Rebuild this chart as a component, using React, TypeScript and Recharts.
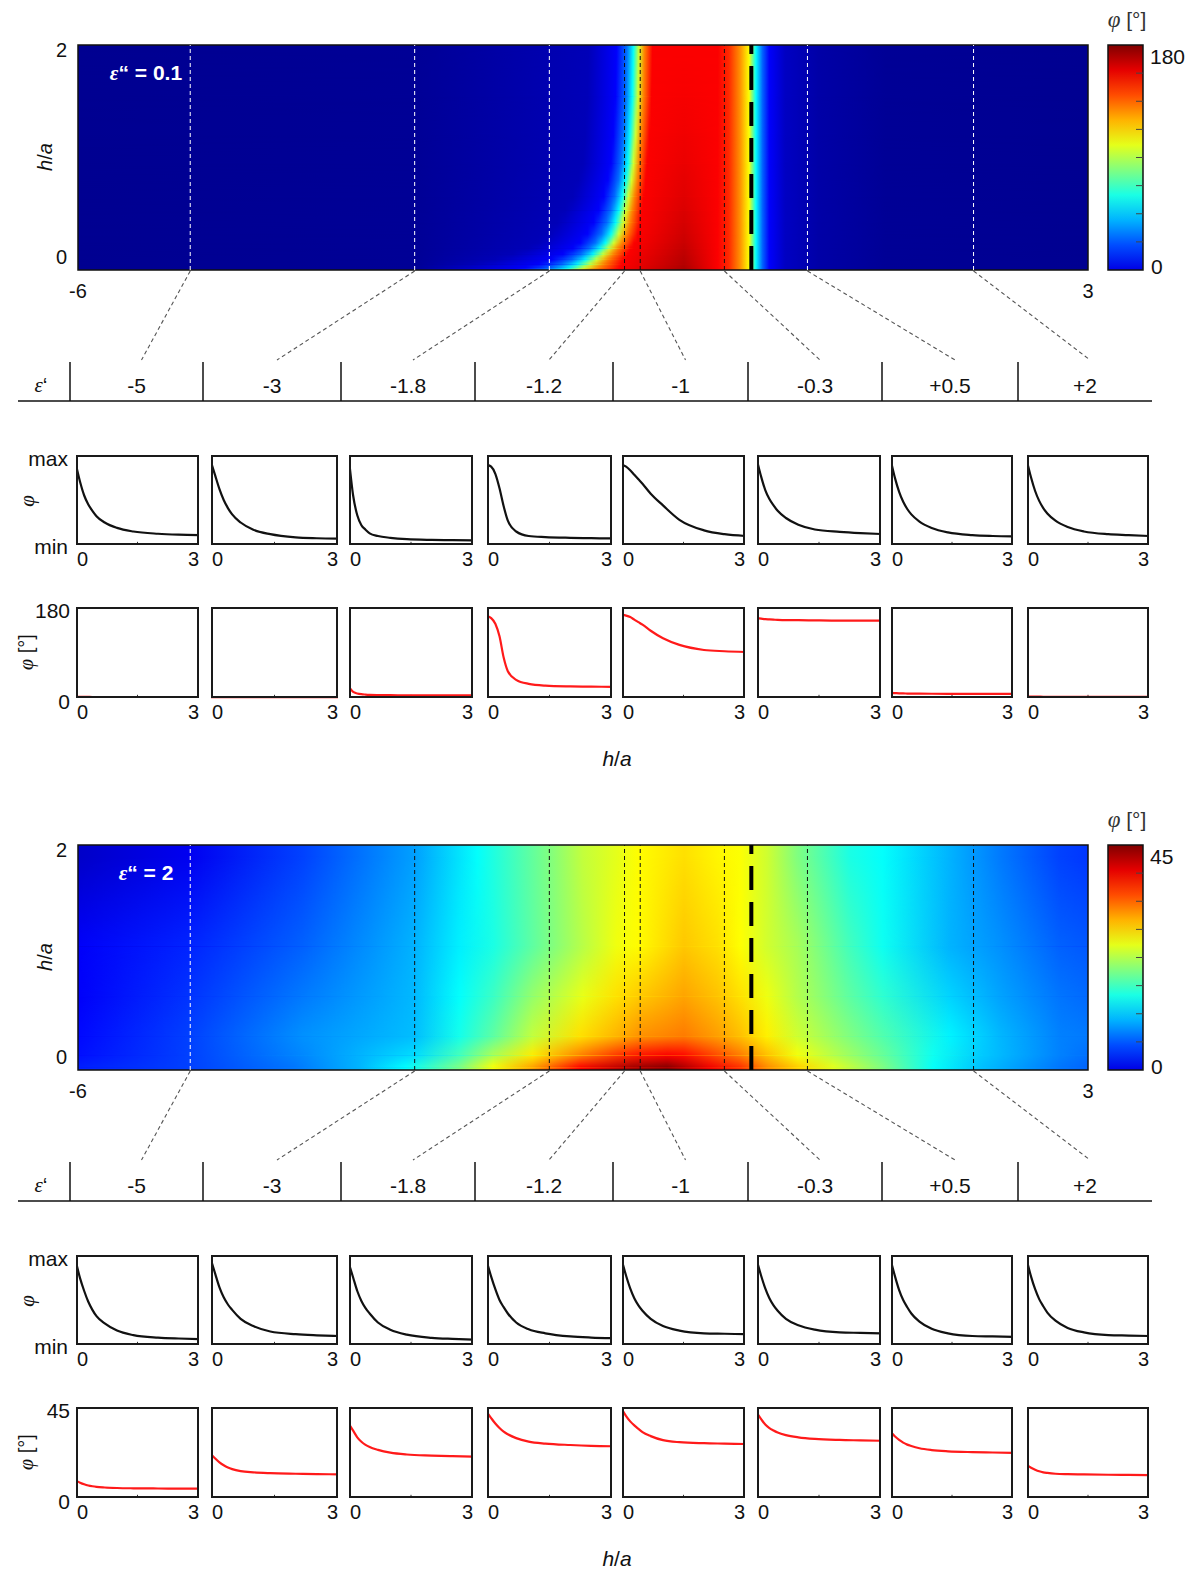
import React from 'react'
import { ComposedChart, LineChart, Line, XAxis, YAxis, ReferenceArea, ReferenceLine } from 'recharts'

// eps' values shown in the table and where their dashed markers cross the maps
const epsLabels = ['-5', '-3', '-1.8', '-1.2', '-1', '-0.3', '+0.5', '+2']
const markerX = [-5, -3, -1.8, -1.13, -0.99, -0.24, 0.5, 1.98]
const poleX = 0

// h/a sample points of the small line charts
const hGrid = [0, 0.1, 0.2, 0.3, 0.4, 0.5, 0.7, 1.0, 1.4, 2.0, 2.5, 3]

// eps'' = 0.1 : normalised profile (max..min) and phase in degrees
const shapeTop = [
  [0.89, 0.7, 0.55, 0.45, 0.38, 0.32, 0.25, 0.19, 0.15, 0.125, 0.115, 0.11],
  [0.92, 0.77, 0.62, 0.5, 0.41, 0.34, 0.25, 0.17, 0.12, 0.085, 0.075, 0.07],
  [0.95, 0.55, 0.33, 0.22, 0.17, 0.13, 0.1, 0.08, 0.065, 0.057, 0.054, 0.052],
  [0.89, 0.87, 0.79, 0.63, 0.43, 0.27, 0.15, 0.1, 0.088, 0.08, 0.076, 0.073],
  [0.89, 0.87, 0.83, 0.78, 0.73, 0.68, 0.57, 0.44, 0.28, 0.163, 0.12, 0.1],
  [0.94, 0.76, 0.61, 0.51, 0.44, 0.38, 0.3, 0.225, 0.172, 0.146, 0.132, 0.122],
  [0.93, 0.74, 0.59, 0.48, 0.4, 0.34, 0.26, 0.19, 0.14, 0.11, 0.1, 0.095],
  [0.93, 0.75, 0.6, 0.49, 0.41, 0.35, 0.27, 0.2, 0.15, 0.12, 0.11, 0.1],
]
const phaseTop = [
  [2.5, 2.3, 2.2, 2.1, 2, 2, 2, 2, 2, 2, 2, 2],
  [1.8, 1.7, 1.6, 1.5, 1.5, 1.5, 1.5, 1.5, 1.5, 1.5, 1.5, 1.5],
  [22, 12, 9, 7.5, 6.8, 6.3, 5.8, 5.5, 5.3, 5.2, 5.1, 5],
  [162, 158, 147, 122, 80, 53, 36, 28, 24.5, 23, 22.5, 22],
  [165, 163, 160, 155, 150, 145, 133, 118, 105, 95, 92.5, 91],
  [158, 157, 156, 155.5, 155, 154.5, 154, 154, 153.5, 153, 153, 153],
  [10, 9.6, 9.3, 9, 8.8, 8.7, 8.5, 8.4, 8.3, 8.2, 8.1, 8],
  [3, 2.8, 2.7, 2.6, 2.5, 2.5, 2.5, 2.5, 2.5, 2.5, 2.5, 2.5],
]

// eps'' = 2
const shapeBottom = [
  [0.92, 0.74, 0.6, 0.48, 0.39, 0.32, 0.24, 0.16, 0.11, 0.082, 0.072, 0.066],
  [0.945, 0.79, 0.64, 0.53, 0.45, 0.39, 0.29, 0.21, 0.15, 0.12, 0.108, 0.1],
  [0.9, 0.75, 0.6, 0.49, 0.41, 0.35, 0.25, 0.17, 0.115, 0.08, 0.068, 0.06],
  [0.92, 0.76, 0.62, 0.5, 0.42, 0.35, 0.25, 0.175, 0.13, 0.095, 0.083, 0.077],
  [0.93, 0.77, 0.63, 0.52, 0.44, 0.38, 0.29, 0.21, 0.16, 0.13, 0.125, 0.12],
  [0.93, 0.77, 0.63, 0.52, 0.44, 0.38, 0.29, 0.22, 0.17, 0.14, 0.135, 0.13],
  [0.93, 0.76, 0.61, 0.5, 0.42, 0.35, 0.26, 0.18, 0.13, 0.1, 0.095, 0.09],
  [0.93, 0.76, 0.62, 0.51, 0.43, 0.36, 0.27, 0.19, 0.14, 0.11, 0.105, 0.1],
]
const phaseBottom = [
  [8.6, 7.6, 6.8, 6.2, 5.8, 5.5, 5.2, 4.95, 4.8, 4.7, 4.65, 4.6],
  [21.7, 19.5, 17.6, 16.2, 15.1, 14.3, 13.3, 12.7, 12.3, 12.0, 11.8, 11.7],
  [36.5, 33.3, 30.0, 27.8, 26.3, 25.2, 23.8, 22.4, 21.5, 21.0, 20.7, 20.5],
  [42.4, 39.5, 36.8, 34.6, 32.8, 31.5, 29.6, 27.9, 26.9, 26.2, 25.8, 25.6],
  [43.7, 40.5, 37.9, 35.9, 34.2, 32.6, 30.6, 28.6, 27.6, 27.1, 26.9, 26.7],
  [42, 39, 36.3, 34.6, 33.4, 32.4, 31.1, 30.0, 29.2, 28.7, 28.5, 28.3],
  [32.5, 30.4, 28.7, 27.4, 26.4, 25.7, 24.6, 23.7, 23.1, 22.7, 22.5, 22.3],
  [16.2, 15.0, 14.0, 13.2, 12.7, 12.4, 12.0, 11.8, 11.7, 11.5, 11.4, 11.3],
]

// eps'' = 0.1 phase map, read row by row: h/a of the row, eps' of the cyan (~68 deg) edge,
// width of the blue->red transition, and the phase in the red core
const topRowsH = [2.0, 1.54, 1.2, 0.95, 0.8, 0.65, 0.53, 0.42, 0.32, 0.24, 0.19, 0.14, 0.09, 0.05, 0.02, 0]
const topEdge = [-1.05, -1.06, -1.08, -1.1, -1.12, -1.15, -1.18, -1.21, -1.25, -1.3, -1.35, -1.41, -1.48, -1.55, -1.62, -1.68]
const topSpread = [1, 1, 1, 1, 1.05, 1.1, 1.2, 1.3, 1.4, 1.5, 1.6, 1.8, 2.0, 2.3, 2.6, 2.8]
const topCore = [158, 159, 160, 161, 162, 163, 164, 165, 166, 167, 168, 169, 170, 171, 172, 173]
const topRightStops = [[-0.3, 158], [-0.2, 150], [-0.1, 132], [-0.02, 112], [0, 95], [0.04, 68], [0.1, 40], [0.16, 22], [0.3, 12], [0.6, 7], [1.2, 4], [3, 3]]

// eps'' = 2 phase map, rows of [eps', phase] stops at the given h/a
const bottomRowsH = [1.9, 1.1, 0.65, 0.3, 0.13, 0.02]
const bottomRowStops = [
  [[-6, 3.2], [-5, 5], [-4, 8.5], [-3, 12.7], [-2.44, 17], [-1.8, 22.5], [-1.5, 25.5], [-1.2, 27], [-1.0, 28.2], [-0.6, 29.5], [-0.3, 28.5], [-0.1, 28], [0.14, 26], [0.41, 22.5], [0.88, 18], [1.17, 17], [1.77, 13.5], [2.22, 11], [2.75, 8.5], [3, 8]],
  [[-6, 5.4], [-5, 7.2], [-4, 9.9], [-3, 13.5], [-2.6, 16.2], [-2.3, 18], [-1.95, 21], [-1.5, 25], [-1.2, 27.5], [-1.0, 28.3], [-0.6, 30.6], [-0.3, 29.5], [-0.1, 28.1], [0.14, 26.1], [0.41, 24.3], [0.88, 19.8], [1.17, 17.5], [1.77, 13.5], [2.22, 12], [2.75, 9.9], [3, 9.5]],
  [[-6, 5.4], [-5, 7.9], [-4, 11], [-3, 13.8], [-2.6, 17], [-2.3, 19.5], [-1.95, 23.5], [-1.5, 27.2], [-1.2, 29.5], [-1.0, 30.5], [-0.6, 32.2], [-0.3, 30.8], [-0.1, 29.5], [0.14, 27.4], [0.41, 24.8], [0.88, 21], [1.17, 19], [1.77, 15], [2.22, 12.8], [2.75, 10.8], [3, 10.3]],
  [[-6, 6], [-5, 8.5], [-4, 12], [-3, 14], [-2.6, 17.8], [-2.3, 21], [-1.95, 25.5], [-1.53, 29.5], [-1.2, 31.5], [-1.0, 33], [-0.6, 34], [-0.3, 32.4], [-0.1, 31], [0.14, 28.8], [0.41, 26], [0.88, 22.5], [1.17, 20.5], [1.77, 16.4], [2.22, 13.7], [2.75, 11.3], [3, 11]],
  [[-6, 6.3], [-5, 8.5], [-4, 11.6], [-3, 15.4], [-2.6, 20], [-2.3, 24.5], [-1.95, 29], [-1.5, 34], [-1.2, 37], [-1.0, 38.5], [-0.75, 39.5], [-0.6, 39], [-0.3, 36], [-0.1, 34], [0.14, 31], [0.41, 27.7], [0.73, 25], [1.17, 21.5], [1.62, 17.5], [2.06, 14.5], [2.75, 11.3], [3, 10.5]],
  [[-6, 7], [-5, 8.5], [-4.08, 10.8], [-3.5, 13.5], [-3.08, 16.9], [-2.6, 22.5], [-2.3, 28], [-1.95, 32.4], [-1.53, 39.4], [-1.05, 43.6], [-0.75, 45], [-0.37, 40], [-0.1, 37.4], [0.14, 33.3], [0.43, 30.2], [0.73, 27], [1.17, 22.5], [1.62, 17.1], [2.06, 14], [2.75, 10.8], [3, 10]],
]

const markerColorsTop = ['#fff', '#fff', '#fff', '#111', '#111', '#111', '#fff', '#fff']
const markerColorsBottom = ['#fff', '#111', '#111', '#111', '#111', '#111', '#111', '#111']

// stop lists for the eps'' = 0.1 rows, shaped around the read edge
const topRowStops = topRowsH.map((_, i) => {
  const e = topEdge[i]
  const s = topSpread[i]
  return [
    [-6, 3], [-3, 4], [e - 0.4 * s, 10], [e - 0.15 * s, 22], [e - 0.06 * s, 42], [e, 68],
    [e + 0.05 * s, 105], [e + 0.1 * s, 135], [e + 0.17 * s, 158], [-0.6, topCore[i]], ...topRightStops,
  ]
})

// layout
const FONT = '"Liberation Sans", Arial, sans-serif'
const SERIF = '"Liberation Serif", "DejaVu Serif", serif'
const PLOT_L = 78
const PLOT_R = 1088
const MAP_TOP = 45
const MAP_BOTTOM = 270
const boxLeft = [76, 211, 349, 487, 622, 757, 891, 1027]
const boxRight = [199, 338, 473, 612, 745, 881, 1013, 1149]
const sepX = [70, 203, 341, 475, 613, 748, 882, 1018, 1152]

const jet = (t: number) => {
  const c = (v: number) => Math.round(255 * Math.max(0, Math.min(1, v)))
  return `rgb(${c(1.5 - Math.abs(4 * t - 3))},${c(1.5 - Math.abs(4 * t - 2))},${c(1.5 - Math.abs(4 * t - 1))})`
}
const xToPx = (x: number) => PLOT_L + ((x + 6) / 9) * (PLOT_R - PLOT_L)

function T({ x, y, children, size = 20, anchor = 'middle', rotate = false, style = {} }: any) {
  const tx = anchor === 'middle' ? '-50%' : anchor === 'end' ? '-100%' : '0'
  return (
    <div
      style={{
        position: 'absolute', left: x, top: y, whiteSpace: 'nowrap', lineHeight: 1, fontSize: size,
        transform: `translate(${tx},-50%)${rotate ? ' rotate(-90deg)' : ''}`, ...style,
      }}
    >
      {children}
    </div>
  )
}

const HA = () => (
  <>
    <span style={{ fontStyle: 'italic' }}>h</span>/<span style={{ fontStyle: 'italic' }}>a</span>
  </>
)

function MapXTick({ x, y, payload }: any) {
  return (
    <text x={x} y={y + 6} dy="0.71em" textAnchor="middle" fontSize={20} fill="#111" fontFamily={FONT}>
      {payload.value}
    </text>
  )
}
function MapYTick({ x, y, payload }: any) {
  return (
    <text x={x - 3} y={y + (payload.value === 2 ? 5 : -13)} dy="0.35em" textAnchor="end" fontSize={20} fill="#111" fontFamily={FONT}>
      {payload.value}
    </text>
  )
}

const mapFrame = [{ x: -6, y: 0 }, { x: 3, y: 2 }]

function HeatMap({ id, rowsH, rowStops, maxPhi, markerColors }: any) {
  const areas: any[] = []
  rowsH.forEach((h: number, k: number) => {
    const fill = `url(#${id}-r${k})`
    if (k === 0) {
      areas.push(<ReferenceArea key={`s${k}`} x1={-6} x2={3} y1={0} y2={2} fill={fill} fillOpacity={1} stroke="none" />)
      return
    }
    areas.push(
      <ReferenceArea key={`f${k}`} x1={-6} x2={3} y1={h} y2={rowsH[k - 1]}
        shape={(p: any) => <rect x={p.x} y={p.y} width={p.width} height={p.height} fill={fill} mask={`url(#${id}-fade)`} />} />
    )
    if (h > 0) {
      areas.push(<ReferenceArea key={`s${k}`} x1={-6} x2={3} y1={0} y2={h} fill={fill} fillOpacity={1} stroke="none" />)
    }
  })
  return (
    <div style={{ position: 'absolute', left: 0, top: 0 }}>
      <ComposedChart width={1200} height={MAP_BOTTOM + 44} data={mapFrame}
        margin={{ top: MAP_TOP, right: 1200 - PLOT_R, bottom: 0, left: PLOT_L - 30 }}>
        <defs>
          <linearGradient id={`${id}-fadeg`} x1="0" y1="0" x2="0" y2="1">
            <stop offset="0" stopColor="#000" />
            <stop offset="1" stopColor="#fff" />
          </linearGradient>
          <mask id={`${id}-fade`} maskContentUnits="objectBoundingBox">
            <rect x="0" y="0" width="1" height="1" fill={`url(#${id}-fadeg)`} />
          </mask>
          {rowStops.map((stops: number[][], i: number) => (
            <linearGradient key={i} id={`${id}-r${i}`} x1="0" y1="0" x2="1" y2="0">
              {stops.map(([x, p], k) => (
                <stop key={k} offset={`${((x + 6) / 9) * 100}%`} stopColor={jet(p / maxPhi)} />
              ))}
            </linearGradient>
          ))}
        </defs>
        <XAxis dataKey="x" type="number" domain={[-6, 3]} ticks={[-6, 3]} interval={0} height={44}
          axisLine={false} tickLine={false} tick={<MapXTick />} />
        <YAxis dataKey="y" type="number" domain={[0, 2]} ticks={[0, 2]} interval={0} width={30}
          axisLine={false} tickLine={false} tick={<MapYTick />} />
        <Line dataKey="y" stroke="none" dot={false} activeDot={false} isAnimationActive={false} />
        {areas}
        {markerX.map((x, i) => (
          <ReferenceLine key={i} x={x} stroke={markerColors[i]} strokeWidth={1} strokeDasharray="4 3" />
        ))}
        <ReferenceLine x={poleX} stroke="#000" strokeWidth={4} strokeDasharray="24 12" />
        <ReferenceArea x1={-6} x2={3} y1={0} y2={2} fill="none" fillOpacity={0} stroke="#111" strokeWidth={1.5} />
      </ComposedChart>
    </div>
  )
}

function ColorBar({ id, maxPhi }: any) {
  const levels = [0.1, 0.2, 0.3, 0.4, 0.5, 0.6, 0.7, 0.8, 0.9, 1]
  const ticks = [1, 2, 3, 4, 5, 6, 7].map((k) => (k * maxPhi) / 8)
  return (
    <div style={{ position: 'absolute', left: 1107, top: MAP_TOP - 1 }}>
      <ComposedChart width={37} height={MAP_BOTTOM - MAP_TOP + 2} data={[{ x: 0, y: 0 }, { x: 1, y: maxPhi }]}
        margin={{ top: 1, right: 1, bottom: 1, left: 1 }}>
        <defs>
          <linearGradient id={id} x1="0" y1="1" x2="0" y2="0">
            {levels.map((t, k) => (
              <stop key={k} offset={`${(k / (levels.length - 1)) * 100}%`} stopColor={jet(t)} />
            ))}
          </linearGradient>
        </defs>
        <XAxis dataKey="x" type="number" domain={[0, 1]} hide />
        <YAxis dataKey="y" type="number" domain={[0, maxPhi]} hide />
        <Line dataKey="y" stroke="none" dot={false} activeDot={false} isAnimationActive={false} />
        <ReferenceArea x1={0} x2={1} y1={0} y2={maxPhi} fill={`url(#${id})`} fillOpacity={1} stroke="#111" strokeWidth={1.5} />
        {ticks.map((v, i) => (
          <ReferenceLine key={i} segment={[{ x: 0.8, y: v }, { x: 1, y: v }]} stroke="#444" strokeWidth={1} />
        ))}
      </ComposedChart>
    </div>
  )
}

function SmallXTick({ x, y, payload }: any) {
  return (
    <text x={payload.value === 0 ? x + 1 : x} y={y - 1} dy="0.71em" textAnchor={payload.value === 0 ? 'start' : 'end'}
      fontSize={20} fill="#111" fontFamily={FONT}>
      {payload.value}
    </text>
  )
}

function SmallChart({ left, right, top, height, values, yMax, color }: any) {
  const w = right - left
  const data = hGrid.map((h, i) => ({ h, v: values[i] }))
  return (
    <div style={{ position: 'absolute', left, top }}>
      <LineChart width={w} height={height + 30} data={data} margin={{ top: 0, right: 0, bottom: 0, left: 0 }}>
        <XAxis dataKey="h" type="number" domain={[0, 3]} ticks={[0, 3]} interval={0} height={30}
          axisLine={false} tickLine={false} tick={<SmallXTick />} />
        <YAxis type="number" domain={[0, yMax]} hide />
        <ReferenceLine segment={[{ x: 1.5, y: 0 }, { x: 1.5, y: yMax * 0.035 }]} stroke="#333" strokeWidth={1} />
        <Line dataKey="v" type="monotone" stroke={color} strokeWidth={2.2} dot={false} isAnimationActive={false} />
      </LineChart>
      <div style={{ position: 'absolute', left: 0, top: 0, width: w, height, border: '2px solid #1a1a1a', boxSizing: 'border-box', pointerEvents: 'none' }} />
    </div>
  )
}

function Panel({ top, id, maxPhi, epsImag, rowsH, rowStops, markerColors, shapes, phases }: any) {
  const row1 = 455
  const row2 = 607
  const cellMid = epsLabels.map((_, i) => (sepX[i] + sepX[i + 1]) / 2)
  return (
    <div style={{ position: 'absolute', left: 0, top, width: 1200, height: 800 }}>
      <HeatMap id={id} rowsH={rowsH} rowStops={rowStops} maxPhi={maxPhi} markerColors={markerColors} />
      <ColorBar id={`${id}-cb`} maxPhi={maxPhi} />

      <svg width={1200} height={420} style={{ position: 'absolute', left: 0, top: 0 }}>
        {markerX.map((x, i) => (
          <line key={i} x1={xToPx(x)} y1={MAP_BOTTOM + 1} x2={cellMid[i] + 5} y2={360}
            stroke="#555" strokeWidth={1.1} strokeDasharray="4 3" />
        ))}
        {sepX.slice(0, 8).map((x, i) => (
          <line key={i} x1={x} y1={362} x2={x} y2={401} stroke="#111" strokeWidth={1.5} />
        ))}
        <line x1={18} y1={401} x2={1152} y2={401} stroke="#111" strokeWidth={1.5} />
      </svg>

      <T x={146} y={73} size={21} style={{ color: '#fff', fontWeight: 'bold' }}>
        <span style={{ fontFamily: SERIF, fontStyle: 'italic' }}>ε</span>“ = {epsImag}
      </T>
      <T x={45} y={157} rotate><HA /></T>
      <T x={1127} y={19} size={21} style={{ color: '#333' }}>
        <span style={{ fontFamily: SERIF, fontStyle: 'italic', fontSize: 23 }}>φ</span> [°]
      </T>
      <T x={1150} y={56} anchor="start" size={21}>{maxPhi}</T>
      <T x={1151} y={266} anchor="start" size={21}>0</T>

      <T x={41} y={385} size={21}><span style={{ fontFamily: SERIF, fontStyle: 'italic' }}>ε</span>‘</T>
      {epsLabels.map((s, i) => (
        <T key={i} x={cellMid[i]} y={385} size={21}>{s}</T>
      ))}

      <T x={68} y={458} anchor="end" size={21}>max</T>
      <T x={27} y={501} rotate size={21} style={{ fontFamily: SERIF, fontStyle: 'italic' }}>φ</T>
      <T x={68} y={546} anchor="end" size={21}>min</T>
      {shapes.map((vals: number[], i: number) => (
        <SmallChart key={i} left={boxLeft[i]} right={boxRight[i]} top={row1} height={90} values={vals} yMax={1} color="#111" />
      ))}

      <T x={70} y={610} anchor="end" size={21}>{maxPhi}</T>
      <T x={26} y={652} rotate size={20}><span style={{ fontFamily: SERIF, fontStyle: 'italic' }}>φ</span> [°]</T>
      <T x={70} y={701} anchor="end" size={21}>0</T>
      {phases.map((vals: number[], i: number) => (
        <SmallChart key={i} left={boxLeft[i]} right={boxRight[i]} top={row2} height={91} values={vals} yMax={maxPhi} color="#ff1a1a" />
      ))}

      <T x={617} y={758} size={21}><HA /></T>
    </div>
  )
}

export default function App() {
  return (
    <div style={{ position: 'absolute', left: 0, top: 0, width: 1200, height: 1571, background: '#fff', fontFamily: FONT, color: '#111' }}>
      <Panel top={0} id="top" maxPhi={180} epsImag="0.1" rowsH={topRowsH} rowStops={topRowStops}
        markerColors={markerColorsTop} shapes={shapeTop} phases={phaseTop} />
      <Panel top={800} id="bot" maxPhi={45} epsImag="2" rowsH={bottomRowsH} rowStops={bottomRowStops}
        markerColors={markerColorsBottom} shapes={shapeBottom} phases={phaseBottom} />
    </div>
  )
}
